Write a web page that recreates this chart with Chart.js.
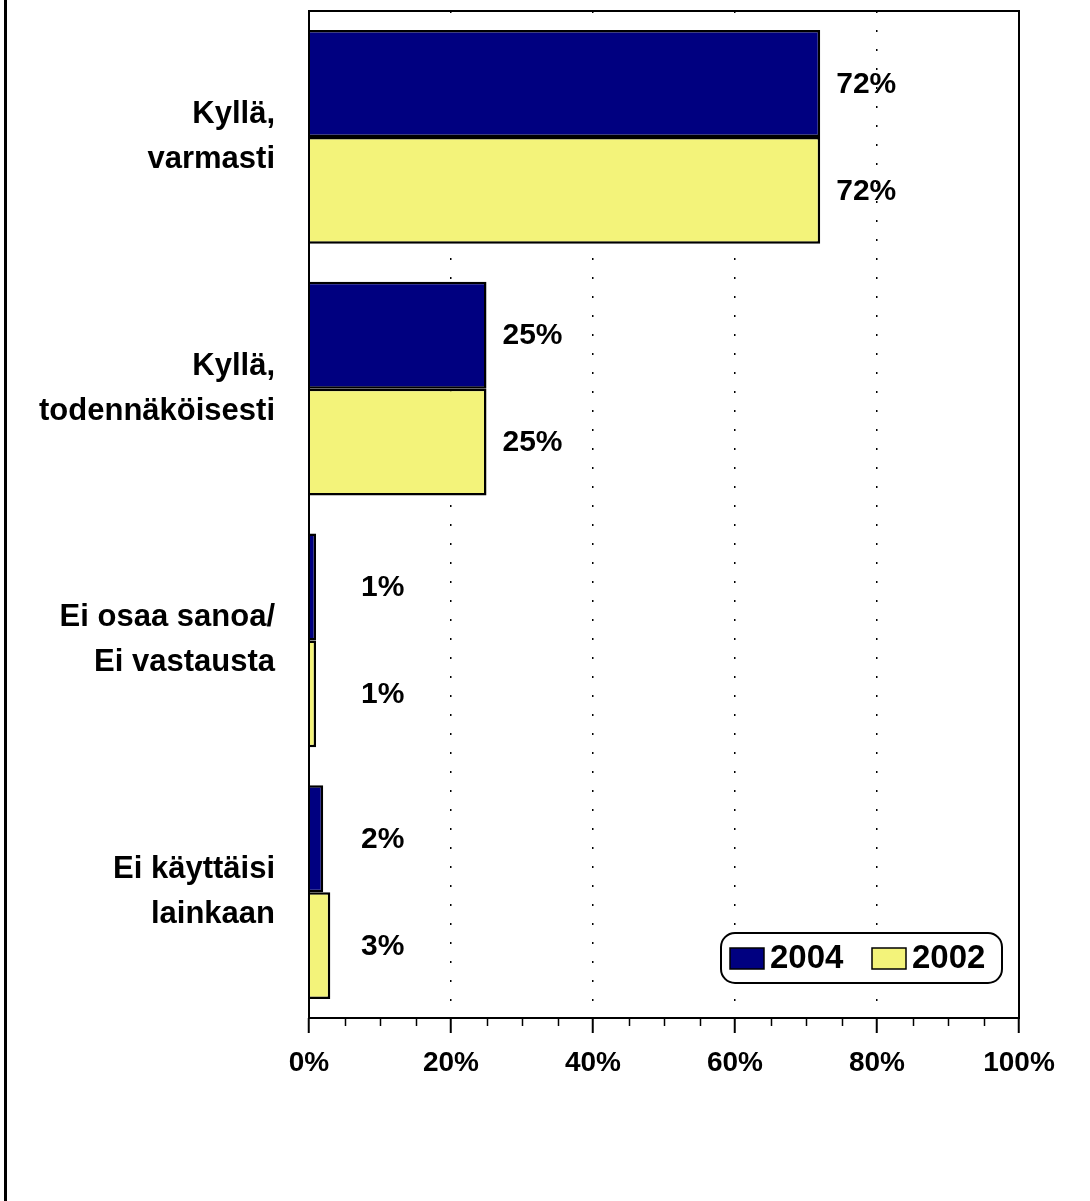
<!DOCTYPE html>
<html>
<head>
<meta charset="utf-8">
<script src="https://cdn.jsdelivr.net/npm/chart.js@4"></script>
<style>
  html, body { margin: 0; padding: 0; background: #fff; }
  #wrap { width: 1090px; height: 1201px; position: relative; }
</style>
</head>
<body>
<div id="wrap"><canvas id="chart" width="1090" height="1201"></canvas></div>
<script>
// categories (multi-line labels) and series
const categories = [
    ["Kyllä,", "varmasti"],
    ["Kyllä,", "todennäköisesti"],
    ["Ei osaa sanoa/", "Ei vastausta"],
    ["Ei käyttäisi", "lainkaan"]
];
const series2004 = [72, 25, 1, 2];
const series2002 = [72, 25, 1, 3];
const seriesNames = ["2004", "2002"];
const xTicks = [0, 20, 40, 60, 80, 100];

const FONT = "'Liberation Sans', Arial, Helvetica, sans-serif";

// frame round the plot, minor ticks, left page line
const framePlugin = {
    id: "frame",
    afterDraw(chart) {
        const ctx = chart.ctx, a = chart.chartArea, xs = chart.scales.x;
        ctx.save();
        ctx.strokeStyle = "#000";
        ctx.lineWidth = 2;
        ctx.strokeRect(a.left, a.top, a.right - a.left, a.bottom - a.top);

        // minor ticks every 5 %
        ctx.lineWidth = 1.5;
        for (let v = 0; v <= 100; v += 5) {
            if (v % 20 === 0) continue;
            let px = Math.round(xs.getPixelForValue(v)) + 0.5;
            ctx.beginPath();
            ctx.moveTo(px, a.bottom);
            ctx.lineTo(px, a.bottom + 8);
            ctx.stroke();
        }

        // page border on the left
        ctx.lineWidth = 3;
        ctx.beginPath();
        ctx.moveTo(5.5, 0);
        ctx.lineTo(5.5, chart.height);
        ctx.stroke();
        ctx.restore();
    }
};

// value labels beside bars
const valueLabels = {
    id: "valueLabels",
    afterDatasetsDraw(chart) {
        const ctx = chart.ctx, a = chart.chartArea;
        ctx.save();
        ctx.font = "bold 30px " + FONT;
        ctx.fillStyle = "#000";
        ctx.textAlign = "left";
        ctx.textBaseline = "middle";
        chart.data.datasets.forEach((ds, i) => {
            chart.getDatasetMeta(i).data.forEach((bar, j) => {
                let x = Math.max(bar.x + 16, a.left + 52);
                ctx.fillText(ds.data[j] + "%", x, bar.y + 1);
            });
        });
        ctx.restore();
    }
};

// rounded legend box in the lower right of the plot
const boxLegend = {
    id: "boxLegend",
    afterDraw(chart) {
        const ctx = chart.ctx, a = chart.chartArea;
        let right = a.right - 17, bottom = a.bottom - 35;
        let w = 281, h = 50, left = right - w, top = bottom - h;
        ctx.save();
        ctx.fillStyle = "#fff";
        ctx.strokeStyle = "#000";
        ctx.lineWidth = 2;
        ctx.beginPath();
        ctx.roundRect(left, top, w, h, 14);
        ctx.fill();
        ctx.stroke();

        ctx.font = "bold 33px " + FONT;
        ctx.textBaseline = "middle";
        let x = left + 9;
        chart.data.datasets.forEach((ds) => {
            ctx.fillStyle = ds.backgroundColor;
            ctx.fillRect(x, top + 15, 34, 21);
            ctx.lineWidth = 1.5;
            ctx.strokeRect(x, top + 15, 34, 21);
            ctx.fillStyle = "#000";
            ctx.fillText(ds.label, x + 40, top + h / 2 + 1);
            x += 142;
        });
        ctx.restore();
    }
};

new Chart(document.getElementById("chart").getContext("2d"), {
    type: "bar",
    data: {
        labels: categories,
        datasets: [{
            label: seriesNames[0],
            data: series2004,
            backgroundColor: "#000080",
            borderColor: "#000",
            borderWidth: 2.5
        }, {
            label: seriesNames[1],
            data: series2002,
            backgroundColor: "#F3F37A",
            borderColor: "#000",
            borderWidth: 2.5
        }]
    },
    options: {
        indexAxis: "y",
        responsive: false,
        animation: false,
        devicePixelRatio: 1,
        layout: { padding: { top: 11, right: 71, left: 0, bottom: 0 } },
        plugins: {
            legend: { display: false },
            tooltip: { enabled: false },
            title: { display: false }
        },
        datasets: { bar: { barPercentage: 1, categoryPercentage: 0.85 } },
        scales: {
            x: {
                type: "linear",
                min: 0,
                max: 100,
                afterFit(scale) {
                    scale.height = 183;
                    scale.paddingLeft = 0;
                    scale.paddingRight = 0;
                },
                afterBuildTicks(scale) { scale.ticks = xTicks.map(v => ({ value: v })); },
                ticks: {
                    callback: v => v + "%",
                    font: { family: FONT, size: 28, weight: "bold" },
                    color: "#000",
                    padding: 13,
                    maxRotation: 0
                },
                grid: {
                    color: c => (c.tick && (c.tick.value === 0 || c.tick.value === 100)) ? "rgba(0,0,0,0)" : "#000",
                    lineWidth: 1.5,
                    tickBorderDash: [],
                    tickColor: "#000",
                    tickWidth: 2,
                    tickLength: 15
                },
                border: { display: false, dash: [2, 17] }
            },
            y: {
                afterFit(scale) {
                    scale.width = 309;
                    scale.paddingTop = 0;
                    scale.paddingBottom = 0;
                },
                ticks: {
                    font: { family: FONT, size: 31, weight: "bold", lineHeight: 1.45 },
                    color: "#000",
                    padding: 26
                },
                grid: { display: false },
                border: { display: false }
            }
        }
    },
    plugins: [framePlugin, valueLabels, boxLegend]
});
</script>
</body>
</html>
